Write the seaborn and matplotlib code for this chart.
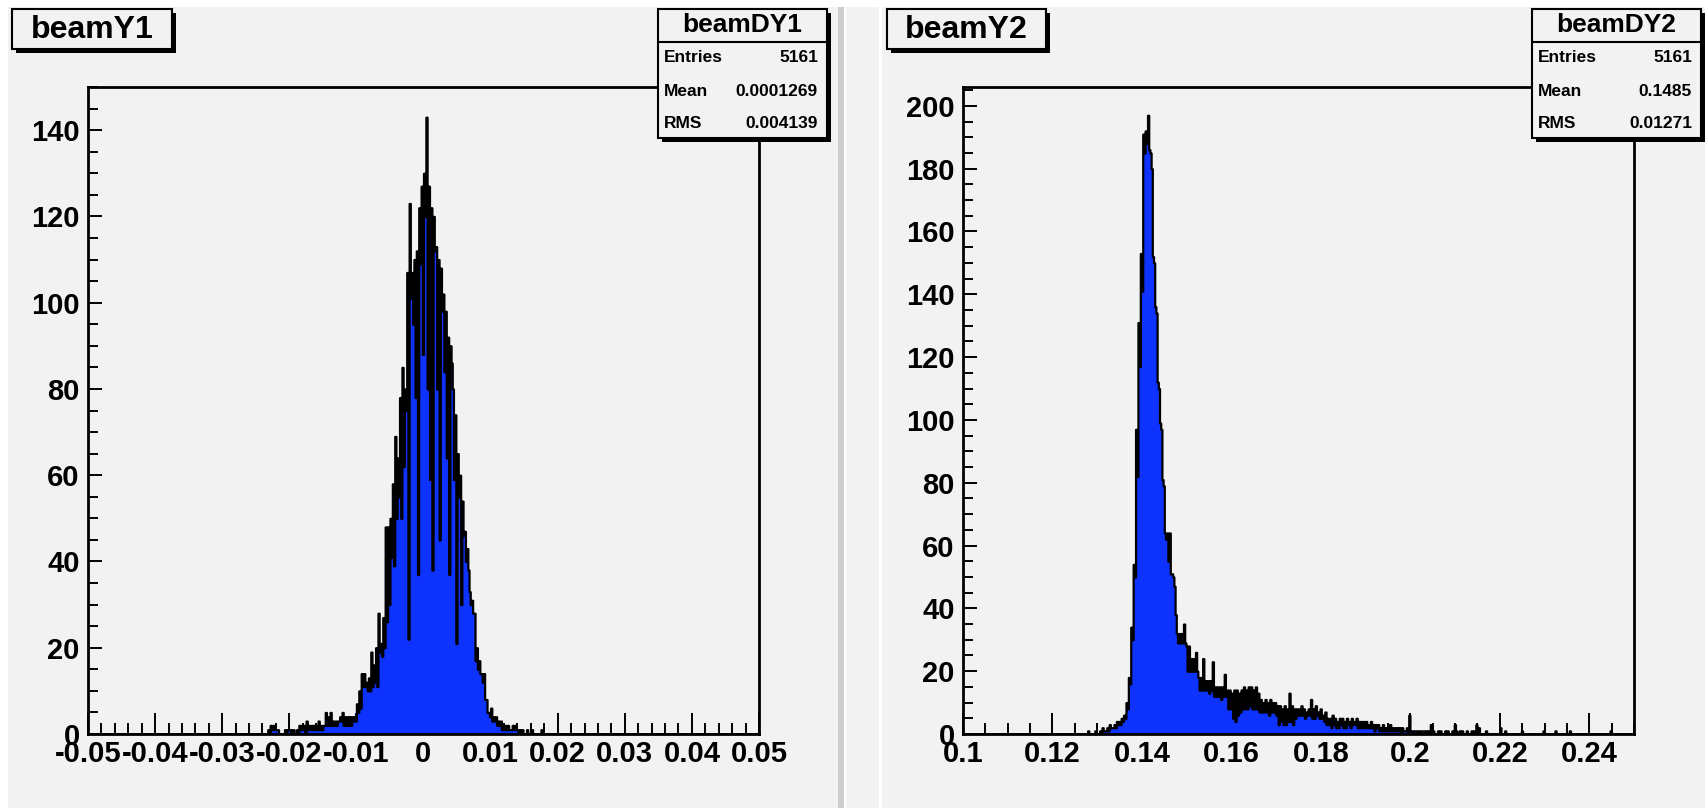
import numpy as np
import pandas as pd
import matplotlib
matplotlib.use("Agg")
import matplotlib.pyplot as plt
import seaborn as sns
from matplotlib.patches import Rectangle
from matplotlib.ticker import MultipleLocator

# ---------------- data ----------------
n_cols = 280                      # histogram columns across each x range

left_range = (-0.05, 0.05)
left_first_col = 74
left_hi = [0, 1, 2, 2, 1, 1, 0, 0, 1, 1,
           1, 1, 0, 1, 2, 2, 2, 3, 2, 2,
           2, 2, 3, 2, 2, 5, 4, 5, 3, 3,
           3, 4, 5, 4, 4, 4, 4, 4, 7, 10,
           14, 14, 12, 13, 19, 16, 20, 28, 21, 27,
           48, 48, 50, 58, 69, 64, 78, 85, 80, 107,
           123, 107, 110, 112, 122, 127, 130, 143, 127, 122,
           120, 113, 110, 108, 102, 98, 92, 90, 80, 74,
           65, 60, 54, 47, 43, 33, 31, 28, 20, 17,
           14, 14, 8, 5, 6, 4, 4, 3, 3, 2,
           2, 2, 1, 2, 2, 1, 1, 1, 0, 1,
           0, 1, 0, 0, 0, 1, 0, 0]
left_lo = [0, 0, 1, 1, 1, 0, 0, 0, 0, 1,
           0, 1, 0, 0, 1, 1, 0, 1, 1, 1,
           1, 1, 1, 1, 2, 2, 2, 2, 2, 2,
           3, 3, 2, 2, 2, 2, 3, 3, 5, 6,
           11, 11, 10, 10, 11, 12, 11, 19, 18, 20,
           26, 30, 41, 39, 50, 55, 50, 62, 75, 22,
           101, 95, 78, 37, 109, 88, 120, 80, 59, 38,
           112, 80, 45, 98, 84, 64, 37, 86, 59, 21,
           55, 30, 46, 40, 38, 30, 28, 17, 15, 14,
           12, 8, 5, 4, 3, 3, 2, 2, 1, 1,
           1, 1, 1, 1, 1, 0, 0, 0, 0, 0,
           0, 0, 0, 0, 0, 0, 0, 0]

right_range = (0.10, 0.25)
right_first_col = 50
right_hi = [0, 0, 1, 0, 0, 1, 0, 1, 2, 1,
            2, 3, 2, 3, 4, 4, 5, 6, 10, 18,
            34, 54, 97, 131, 153, 191, 192, 197, 185, 152,
            136, 112, 99, 81, 64, 64, 64, 51, 47, 32,
            32, 32, 35, 28, 28, 24, 24, 26, 18, 18,
            24, 17, 17, 17, 23, 15, 15, 15, 15, 19,
            14, 14, 13, 14, 14, 13, 14, 15, 14, 15,
            15, 14, 15, 13, 11, 10, 11, 10, 11, 10,
            10, 9, 9, 8, 9, 8, 13, 9, 8, 8,
            8, 9, 8, 7, 8, 11, 8, 9, 7, 8,
            6, 7, 5, 5, 6, 5, 4, 5, 5, 4,
            5, 4, 5, 4, 5, 4, 4, 4, 4, 3,
            4, 3, 3, 3, 2, 3, 2, 2, 3, 2,
            2, 2, 2, 2, 1, 2, 6, 1, 1, 1,
            1, 1, 1, 1, 1, 3, 1, 0, 1, 1,
            0, 1, 1, 0, 1, 3, 0, 1, 1, 0,
            1, 0, 1, 1, 3, 2, 0, 0, 1, 0,
            0, 0, 0, 0, 2, 0, 1, 0, 0, 0,
            0, 0, 0, 1, 0, 0, 0, 0, 0, 0,
            0, 0, 1, 0, 0, 0, 0, 1, 0, 0,
            0, 0, 0, 1, 0, 0, 0, 0, 0, 0,
            0, 0, 0, 0, 0, 0, 0, 0, 0, 0,
            1, 0]
right_lo = [0, 0, 0, 0, 0, 0, 0, 0, 1, 1,
            1, 2, 2, 2, 3, 3, 4, 5, 8, 16,
            30, 50, 82, 117, 141, 185, 188, 186, 180, 150,
            134, 110, 97, 79, 62, 55, 51, 50, 38, 29,
            29, 29, 29, 20, 20, 20, 20, 20, 14, 14,
            14, 14, 13, 14, 12, 12, 12, 11, 12, 12,
            8, 8, 5, 4, 6, 7, 8, 8, 8, 9,
            8, 8, 8, 7, 7, 7, 7, 6, 7, 7,
            6, 3, 4, 3, 3, 4, 4, 3, 5, 6,
            6, 6, 5, 6, 6, 5, 5, 6, 5, 5,
            4, 3, 3, 2, 3, 2, 2, 3, 2, 2,
            3, 2, 3, 3, 2, 2, 2, 2, 2, 2,
            2, 1, 2, 1, 1, 1, 1, 1, 1, 1,
            1, 1, 0, 1, 1, 0, 1, 0, 1, 0,
            0, 1, 0, 0, 0, 0, 0, 0, 0, 0,
            0, 0, 0, 0, 0, 1, 0, 0, 0, 0,
            0, 0, 0, 0, 0, 0, 0, 0, 0, 0,
            0, 0, 0, 0, 0, 0, 0, 0, 0, 0,
            0, 0, 0, 0, 0, 0, 0, 0, 0, 0,
            0, 0, 0, 0, 0, 0, 0, 0, 0, 0,
            0, 0, 0, 0, 0, 0, 0, 0, 0, 0,
            0, 0, 0, 0, 0, 0, 0, 0, 0, 0,
            0, 0]

left_xticks = [-0.05, -0.04, -0.03, -0.02, -0.01, 0.0, 0.01, 0.02, 0.03, 0.04, 0.05]
left_xlabels = ["-0.05", "-0.04", "-0.03", "-0.02", "-0.01", "0", "0.01", "0.02", "0.03", "0.04", "0.05"]
left_yticks = [0, 20, 40, 60, 80, 100, 120, 140]
right_xticks = [0.10, 0.12, 0.14, 0.16, 0.18, 0.20, 0.22, 0.24]
right_xlabels = ["0.1", "0.12", "0.14", "0.16", "0.18", "0.2", "0.22", "0.24"]
right_yticks = [0, 20, 40, 60, 80, 100, 120, 140, 160, 180, 200]

titles = ["beamY1", "beamY2"]
stat_names = ["beamDY1", "beamDY2"]
stat_entries = ["5161", "5161"]
stat_means = ["0.0001269", "0.1485"]
stat_rms = ["0.004139", "0.01271"]

# ---------------- style ----------------
sns.set_theme(style="white")
plt.rcParams["font.family"] = ["Liberation Sans", "DejaVu Sans"]
plt.rcParams["font.weight"] = "bold"

BG = "#f2f2f2"
BLUE = "#0f33ff"
W, H = 1706, 808

fig = plt.figure(figsize=(W / 100, H / 100), dpi=100, facecolor="white")


def px_rect(x0, y0, x1, y1, **kw):
    r = Rectangle((x0 / W, 1 - y1 / H), (x1 - x0) / W, (y1 - y0) / H,
                  transform=fig.transFigure, **kw)
    fig.add_artist(r)


def px_text(x, y, s, **kw):
    fig.text(x / W, 1 - y / H, s, **kw)


# pads and separator
px_rect(8, 7, 838, 808, facecolor=BG, edgecolor="none", zorder=-10)
px_rect(838, 7, 844, 808, facecolor="#cdcdcd", edgecolor="none", zorder=-10)
px_rect(846, 7, 879, 808, facecolor=BG, edgecolor="none", zorder=-10)
px_rect(882, 7, 1706, 808, facecolor=BG, edgecolor="none", zorder=-10)


def build_counts(first_col, hi, lo):
    counts = np.zeros(2 * n_cols)
    for k, (h, l) in enumerate(zip(hi, lo)):
        c = first_col + k
        counts[2 * c] = h
        counts[2 * c + 1] = l
    return counts


def draw_panel(ax, xr, first_col, hi, lo, ymax, xticks, xlabels, yticks, xminor):
    edges = np.linspace(xr[0], xr[1], 2 * n_cols + 1)
    centers = 0.5 * (edges[:-1] + edges[1:])
    df = pd.DataFrame({"x": centers, "count": build_counts(first_col, hi, lo)})
    sns.histplot(data=df, x="x", weights="count", bins=2 * n_cols, binrange=xr,
                 element="step", fill=True, color=BLUE, edgecolor="black",
                 linewidth=1.6, alpha=1, ax=ax)
    ax.set_xlim(*xr)
    ax.set_ylim(0, ymax)
    ax.set_facecolor(BG)
    ax.set_xlabel("")
    ax.set_ylabel("")
    ax.set_xticks(xticks)
    ax.set_xticklabels(xlabels)
    ax.set_yticks(yticks)
    ax.set_yticklabels([str(v) for v in yticks])
    ax.xaxis.set_minor_locator(MultipleLocator(xminor))
    ax.yaxis.set_minor_locator(MultipleLocator(5))
    ax.tick_params(axis="both", which="both", direction="in", width=1.4,
                   color="black", labelsize=21, labelcolor="black")
    ax.tick_params(axis="x", which="major", length=15, pad=4)
    ax.tick_params(axis="x", which="minor", length=8)
    ax.tick_params(axis="y", which="major", length=10, pad=6)
    ax.tick_params(axis="y", which="minor", length=7.5)
    ax.tick_params(top=False, right=False, which="both")
    ax.tick_params(bottom=True, left=True, which="both")
    for lab in ax.get_xticklabels() + ax.get_yticklabels():
        lab.set_fontweight("bold")
    for s in ax.spines.values():
        s.set_linewidth(2)
        s.set_color("black")


ax1 = fig.add_axes([88 / W, (H - 734) / H, 671 / W, 647 / H])
draw_panel(ax1, left_range, left_first_col, left_hi, left_lo, 150,
           left_xticks, left_xlabels, left_yticks, 0.002)
ax2 = fig.add_axes([963 / W, (H - 734) / H, 671 / W, 647 / H])
draw_panel(ax2, right_range, right_first_col, right_hi, right_lo, 206,
           right_xticks, right_xlabels, right_yticks, 0.005)


def box(x0, y0, x1, y1):
    px_rect(x0 + 4, y0 + 4, x1 + 4, y1 + 4, facecolor="black", edgecolor="none", zorder=20)
    px_rect(x0, y0, x1, y1, facecolor=BG, edgecolor="black", linewidth=1.5, zorder=21)


# title boxes
for (x0, x1), t in zip([(12, 172), (887, 1046)], titles):
    box(x0, 9, x1, 49)
    px_text((x0 + x1) / 2, 30, t, ha="center", va="center", fontsize=23,
            fontweight="bold", color="black", zorder=22)

# stats boxes
for (x0, x1), name, ent, mean, rms in zip([(658, 827), (1532, 1701)], stat_names,
                                          stat_entries, stat_means, stat_rms):
    box(x0, 9, x1, 138)
    fig.add_artist(plt.Line2D([x0 / W, x1 / W], [1 - 42 / H, 1 - 42 / H],
                              transform=fig.transFigure, color="black",
                              linewidth=1.5, zorder=22))
    px_text((x0 + x1) / 2, 25, name, ha="center", va="center", fontsize=19,
            fontweight="bold", color="black", zorder=22)
    for yy, lab, val in zip([58, 91, 123], ["Entries", "Mean", "RMS"], [ent, mean, rms]):
        px_text(x0 + 6, yy, lab, ha="left", va="center", fontsize=12.5,
                fontweight="bold", color="black", zorder=22)
        px_text(x1 - 9, yy, val, ha="right", va="center", fontsize=12.5,
                fontweight="bold", color="black", zorder=22)

fig.savefig("out.png", dpi=100, facecolor="white")
